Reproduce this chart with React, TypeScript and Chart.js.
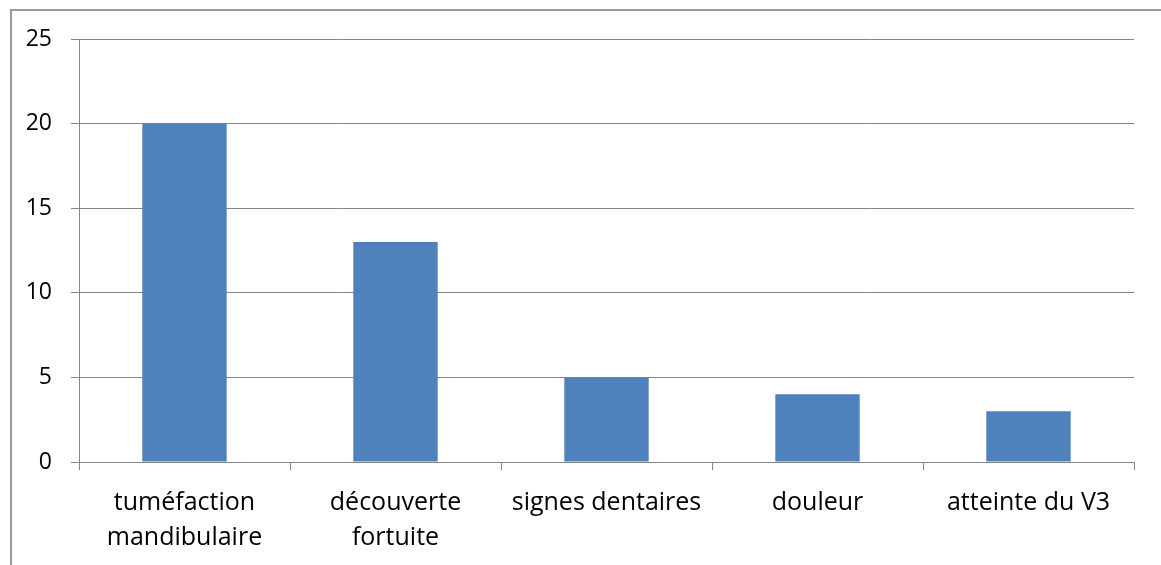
import React, { useEffect, useRef } from "react";
import { Chart, registerables } from "chart.js";

Chart.register(...registerables);

const categories: (string | string[])[] = [
  ["tuméfaction", "mandibulaire"],
  ["découverte", "fortuite"],
  "signes dentaires",
  "douleur",
  "atteinte du V3",
];
const values: number[] = [20, 13, 5, 4, 3];
const yMin = 0;
const yMax = 25;
const yStep = 5;

export default function App() {
  const ref = useRef<HTMLCanvasElement | null>(null);

  useEffect(() => {
    if (!ref.current) return;
    const gridColor = "#868686";
    const chart = new Chart(ref.current, {
      type: "bar",
      data: {
        labels: categories,
        datasets: [
          {
            data: values,
            backgroundColor: "#4F81BD",
            borderWidth: 0,
            barPercentage: 0.4,
            categoryPercentage: 1,
          },
        ],
      },
      options: {
        animation: false,
        responsive: false,
        maintainAspectRatio: false,
        layout: { padding: { left: 0, top: 39, right: 27, bottom: 0 } },
        plugins: { legend: { display: false }, tooltip: { enabled: false } },
        scales: {
          x: {
            grid: {
              offset: true,
              drawOnChartArea: false,
              drawTicks: true,
              tickLength: 8,
              color: gridColor,
              lineWidth: 1,
            },
            border: { color: gridColor, width: 1 },
            ticks: {
              color: "#000000",
              padding: 15,
              maxRotation: 0,
              autoSkip: false,
              font: { family: "'Open Sans', sans-serif", size: 25, lineHeight: 1.4 },
            },
            afterFit: (scale: any) => {
              scale.height = 103;
            },
          },
          y: {
            min: yMin,
            max: yMax,
            ticks: {
              stepSize: yStep,
              color: "#000000",
              padding: 19,
              font: { family: "'Open Sans', sans-serif", size: 23 },
            },
            grid: {
              color: gridColor,
              lineWidth: 1,
              tickLength: 8,
              drawTicks: true,
            },
            border: { color: gridColor, width: 1 },
            afterFit: (scale: any) => {
              scale.width = 79;
            },
          },
        },
      },
    });
    return () => chart.destroy();
  }, []);

  return (
    <div
      style={{
        position: "fixed",
        left: 0,
        top: 0,
        width: 1161,
        height: 565,
        overflow: "hidden",
        background: "#ffffff",
      }}
    >
      <div
        style={{
          position: "absolute",
          left: 10,
          top: 9,
          width: 1200,
          height: 600,
          border: "2px solid #999999",
          boxSizing: "border-box",
        }}
      />
      <canvas
        ref={ref}
        width={1161}
        height={565}
        style={{ position: "absolute", left: 0, top: 0, width: 1161, height: 565 }}
      />
    </div>
  );
}
